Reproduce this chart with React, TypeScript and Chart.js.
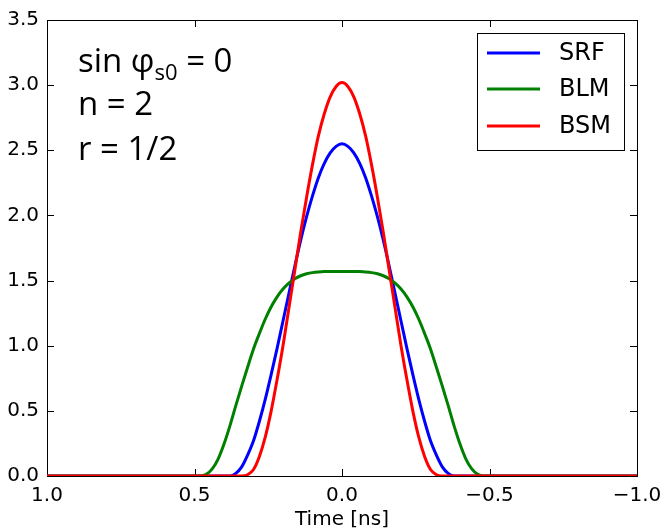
import React, { useEffect, useRef } from "react";
import { Chart, registerables } from "chart.js";

Chart.register(...registerables);

// Time axis samples [ns]
const timeNs = [
  -1.0, -0.5, -0.48, -0.46, -0.44, -0.42, -0.4, -0.38, -0.36, -0.34, -0.32, -0.3, -0.28,
  -0.26, -0.24, -0.22, -0.2, -0.18, -0.16, -0.14, -0.12, -0.1, -0.08, -0.06, -0.04, -0.02,
  0.0, 0.02, 0.04, 0.06, 0.08, 0.1, 0.12, 0.14, 0.16, 0.18, 0.2, 0.22, 0.24, 0.26, 0.28,
  0.3, 0.32, 0.34, 0.36, 0.38, 0.4, 0.42, 0.44, 0.46, 0.48, 0.5, 1.0,
];

const srfValues = [
  0, 0, 0, 0, 0, 0, 0, 0, 0.02, 0.07, 0.16, 0.27, 0.42, 0.59, 0.78, 0.98, 1.19, 1.4, 1.61,
  1.81, 1.99, 2.15, 2.29, 2.4, 2.48, 2.53, 2.55, 2.53, 2.48, 2.4, 2.29, 2.15, 1.99, 1.81,
  1.61, 1.4, 1.19, 0.98, 0.78, 0.59, 0.42, 0.27, 0.16, 0.07, 0.02, 0, 0, 0, 0, 0, 0, 0, 0,
];

const blmValues = [
  0, 0, 0, 0.013, 0.055, 0.13, 0.245, 0.385, 0.54, 0.69, 0.835, 0.975, 1.094, 1.205, 1.299,
  1.375, 1.435, 1.48, 1.514, 1.537, 1.552, 1.561, 1.566, 1.569, 1.57, 1.57, 1.57, 1.57,
  1.57, 1.569, 1.566, 1.561, 1.552, 1.537, 1.514, 1.48, 1.435, 1.375, 1.299, 1.205, 1.094,
  0.975, 0.835, 0.69, 0.54, 0.385, 0.245, 0.13, 0.055, 0.013, 0, 0, 0,
];

const bsmValues = [
  0, 0, 0, 0, 0, 0, 0, 0, 0, 0, 0.01, 0.05, 0.15, 0.3, 0.5, 0.74, 1.0, 1.29, 1.58, 1.87,
  2.14, 2.39, 2.61, 2.78, 2.91, 2.99, 3.02, 2.99, 2.91, 2.78, 2.61, 2.39, 2.14, 1.87, 1.58,
  1.29, 1.0, 0.74, 0.5, 0.3, 0.15, 0.05, 0.01, 0, 0, 0, 0, 0, 0, 0, 0, 0, 0,
];

const seriesNames = ["SRF", "BLM", "BSM"];
const seriesColors = ["#0000ff", "#008000", "#ff0000"];

const xTickValues = [1.0, 0.5, 0.0, -0.5, -1.0];
const yTickValues = [0, 0.5, 1.0, 1.5, 2.0, 2.5, 3.0, 3.5];

const xTitle = "Time [ns]";

// annotation text lines, segments with optional subscript
const annotationLines = [
  [
    { text: "sin φ", sub: false },
    { text: "s0", sub: true },
    { text: " = 0", sub: false },
  ],
  [{ text: "n = 2", sub: false }],
  [{ text: "r = 1/2", sub: false }],
];

const AXIS_FONT = "DejaVu Sans";

const fmtX = (v: number) =>
  v < 0 ? "\u2212" + Math.abs(v).toFixed(1) : Math.abs(v).toFixed(1);

const framePlugin = {
  id: "frameTicks",
  beforeDatasetsDraw(chart: any) {
    const { ctx, chartArea, scales } = chart;
    const left = Math.round(chartArea.left);
    const right = Math.round(chartArea.right);
    const top = Math.round(chartArea.top);
    const bottom = Math.round(chartArea.bottom);
    ctx.save();
    ctx.strokeStyle = "#000";
    ctx.lineWidth = 1;
    ctx.strokeRect(left + 0.5, top + 0.5, right - left, bottom - top);
    const tl = 7;
    ctx.beginPath();
    for (const v of xTickValues) {
      const px = Math.round(scales.x.getPixelForValue(v)) + 0.5;
      ctx.moveTo(px, bottom);
      ctx.lineTo(px, bottom - tl);
      ctx.moveTo(px, top);
      ctx.lineTo(px, top + tl);
    }
    for (const v of yTickValues) {
      const py = Math.round(scales.y.getPixelForValue(v)) + 0.5;
      ctx.moveTo(left, py);
      ctx.lineTo(left + tl, py);
      ctx.moveTo(right, py);
      ctx.lineTo(right - tl, py);
    }
    ctx.stroke();
    ctx.restore();
  },
};

const overlayPlugin = {
  id: "overlay",
  afterDraw(chart: any) {
    const { ctx } = chart;
    ctx.save();
    // legend box
    const bx = 477.5,
      by = 33.5,
      bw = 147,
      bh = 117;
    ctx.fillStyle = "#fff";
    ctx.fillRect(bx, by, bw, bh);
    ctx.strokeStyle = "#000";
    ctx.lineWidth = 1;
    ctx.strokeRect(bx, by, bw, bh);
    const rowY = [53, 89, 126];
    ctx.font = `24px "${AXIS_FONT}"`;
    ctx.textBaseline = "middle";
    ctx.textAlign = "left";
    chart.data.datasets.forEach((ds: any, i: number) => {
      const y = rowY[i];
      ctx.strokeStyle = ds.borderColor;
      ctx.lineWidth = 3;
      ctx.beginPath();
      ctx.moveTo(487, y);
      ctx.lineTo(540, y);
      ctx.stroke();
      ctx.fillStyle = "#000";
      ctx.fillText(ds.label, 559, y + 1);
    });

    // annotation
    const baselines = [72, 115, 160];
    ctx.textBaseline = "alphabetic";
    ctx.fillStyle = "#000";
    annotationLines.forEach((segs, li) => {
      let x = 78;
      for (const s of segs) {
        if (s.sub) {
          ctx.font = `22px "Open Sans"`;
          ctx.fillText(s.text, x, baselines[li] + 8);
        } else {
          ctx.font = `33px "Open Sans"`;
          ctx.fillText(s.text, x, baselines[li]);
        }
        x += ctx.measureText(s.text).width;
      }
    });
    ctx.restore();
  },
};

export default function App() {
  const canvasRef = useRef<HTMLCanvasElement | null>(null);

  useEffect(() => {
    if (!canvasRef.current) return;
    const series = [srfValues, blmValues, bsmValues];
    const datasets = series.map((vals, i) => ({
      label: seriesNames[i],
      data: timeNs.map((t, j) => ({ x: t, y: vals[j] })),
      borderColor: seriesColors[i],
      backgroundColor: seriesColors[i],
      borderWidth: 3,
      pointRadius: 0,
      fill: false,
      cubicInterpolationMode: "monotone" as const,
      order: 2 - i,
    }));
    const chart = new Chart(canvasRef.current, {
      type: "line",
      data: { datasets },
      options: {
        animation: false,
        responsive: false,
        maintainAspectRatio: false,
        layout: { padding: { top: 20, right: 26, left: 0, bottom: 0 } },
        plugins: {
          legend: { display: false },
          tooltip: { enabled: false },
        },
        scales: {
          x: {
            type: "linear",
            min: -1,
            max: 1,
            reverse: true,
            afterBuildTicks: (s: any) => {
              s.ticks = xTickValues.map((v) => ({ value: v }));
            },
            afterFit: (s: any) => {
              s.height = 56;
              s.paddingLeft = 0;
              s.paddingRight = 0;
            },
            grid: { display: false, drawTicks: false },
            border: { display: false },
            ticks: {
              autoSkip: false,
              maxRotation: 0,
              padding: 8,
              color: "#000",
              font: { family: AXIS_FONT, size: 20 },
              callback: (v: any) => fmtX(Number(v)),
            },
            title: {
              display: true,
              text: xTitle,
              color: "#000",
              font: { family: AXIS_FONT, size: 20 },
              padding: { top: 0, bottom: 0 },
            },
          },
          y: {
            type: "linear",
            min: 0,
            max: 3.5,
            afterBuildTicks: (s: any) => {
              s.ticks = yTickValues.map((v) => ({ value: v }));
            },
            afterFit: (s: any) => {
              s.width = 47;
              s.paddingTop = 0;
              s.paddingBottom = 0;
            },
            grid: { display: false, drawTicks: false },
            border: { display: false },
            ticks: {
              autoSkip: false,
              padding: 8,
              color: "#000",
              font: { family: AXIS_FONT, size: 20 },
              callback: (v: any) => Number(v).toFixed(1),
            },
          },
        },
      },
      plugins: [framePlugin, overlayPlugin],
    });
    return () => chart.destroy();
  }, []);

  return (
    <div style={{ position: "absolute", left: 0, top: 0, width: 663, height: 532, background: "#fff" }}>
      <canvas ref={canvasRef} width={663} height={532} style={{ display: "block" }} />
    </div>
  );
}
